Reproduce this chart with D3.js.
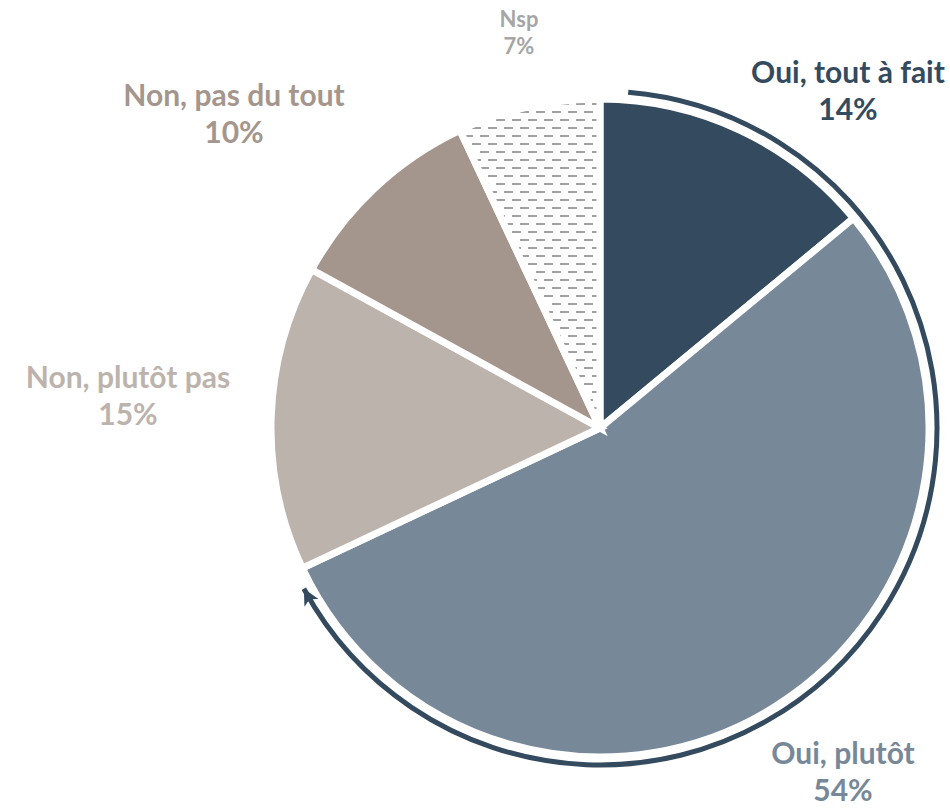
<!DOCTYPE html>
<html>
<head>
<meta charset="utf-8">
<script src="https://cdn.jsdelivr.net/npm/d3@7"></script>
<style>
  body { margin: 0; background: #fff; }
  text { font-family: Lato, "Open Sans", sans-serif; font-weight: bold; }
</style>
</head>
<body>
<svg id="chart" width="950" height="808"></svg>
<script>
// chart data
const categories = ["Oui, tout à fait", "Oui, plutôt", "Non, plutôt pas", "Non, pas du tout", "Nsp"];
const values = [14, 54, 15, 10, 7];
const sliceColors = ["#344a5e", "#778899", "#bcb3ad", "#a5968d", "url(#dashes)"];
const labelColors = ["#344a5e", "#778899", "#bcb3ad", "#a5968d", "#a6a6a6"];
// label anchor points (centre of first line)
const labelPos = [[848, 83], [843, 764], [128, 388], [234, 106], [519, 27]];
const labelSizes = [30, 30, 30, 30, 22];

function draw() {
    let svg = d3.select("#chart");
    let cx = 600, cy = 428, r = 329;

    let defs = svg.append("defs");
    // dashed fill for Nsp
    let pat = defs.append("pattern")
        .attr("id", "dashes")
        .attr("patternUnits", "userSpaceOnUse")
        .attr("width", 16).attr("height", 16);
    pat.append("rect").attr("width", 16).attr("height", 16).attr("fill", "#fff");
    pat.append("rect").attr("x", 0).attr("y", 3).attr("width", 9).attr("height", 2).attr("fill", "#a0a0a0");
    pat.append("rect").attr("x", 8).attr("y", 11).attr("width", 9).attr("height", 2).attr("fill", "#a0a0a0");
    pat.append("rect").attr("x", -8).attr("y", 11).attr("width", 9).attr("height", 2).attr("fill", "#a0a0a0");

    defs.append("marker")
        .attr("id", "arrow")
        .attr("markerUnits", "userSpaceOnUse")
        .attr("viewBox", "0 0 10 10")
        .attr("refX", 10).attr("refY", 5)
        .attr("markerWidth", 18).attr("markerHeight", 16)
        .attr("orient", "auto")
        .append("path")
        .attr("d", "M0,0 L10,5 L0,10 L2.5,5 Z")
        .attr("fill", "#344a5e");

    let g = svg.append("g").attr("transform", `translate(${cx},${cy})`);

    let pie = d3.pie().sort(null).value(d => d);
    let arc = d3.arc().innerRadius(0).outerRadius(r);

    g.selectAll("path.slice")
        .data(pie(values))
        .enter()
        .append("path")
        .attr("class", "slice")
        .attr("d", arc)
        .attr("fill", (d, i) => sliceColors[i])
        .attr("stroke", "#fff")
        .attr("stroke-width", 7)
        .attr("stroke-linejoin", "miter");

    // arrow around the "oui" slices
    let deg = Math.PI / 180;
    let p = d3.path();
    p.arc(0, 0, 337, (4.8 - 90) * deg, (241.5 - 90) * deg);
    g.append("path")
        .attr("d", p.toString())
        .attr("fill", "none")
        .attr("stroke", "#344a5e")
        .attr("stroke-width", 5)
        .attr("marker-end", "url(#arrow)");

    // labels
    let labels = svg.selectAll("g.label")
        .data(categories)
        .enter()
        .append("g")
        .attr("class", "label")
        .attr("transform", (d, i) => `translate(${labelPos[i][0]},${labelPos[i][1]})`);
    labels.append("text")
        .attr("text-anchor", "middle")
        .attr("font-size", (d, i) => labelSizes[i])
        .attr("fill", (d, i) => labelColors[i])
        .text(d => d);
    labels.append("text")
        .attr("text-anchor", "middle")
        .attr("y", (d, i) => labelSizes[i] * 1.24)
        .attr("font-size", (d, i) => labelSizes[i])
        .attr("fill", (d, i) => labelColors[i])
        .text((d, i) => values[i] + "%");
}

draw();
</script>
</body>
</html>
